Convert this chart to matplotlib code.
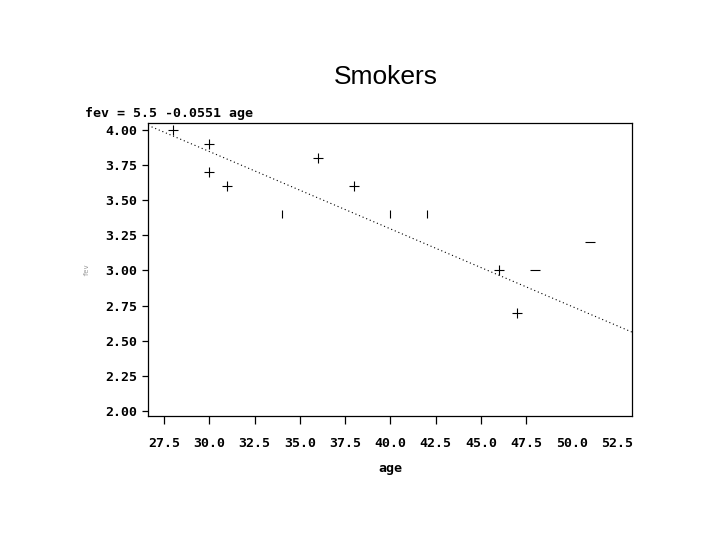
import matplotlib
matplotlib.use('Agg')
import matplotlib.pyplot as plt
import numpy as np

# smokers: age vs fev, symbol per point as printed in the reference
age_plus = [28, 30, 30, 31, 36, 38, 46, 47]
fev_plus = [4.0, 3.9, 3.7, 3.6, 3.8, 3.6, 3.0, 2.7]
age_bar = [34, 40, 42]
fev_bar = [3.4, 3.4, 3.4]
age_dash = [48, 51]
fev_dash = [3.0, 3.2]

intercept = 5.5
slope = -0.0551

xticks = [27.5, 30.0, 32.5, 35.0, 37.5, 40.0, 42.5, 45.0, 47.5, 50.0, 52.5]
yticks = [2.00, 2.25, 2.50, 2.75, 3.00, 3.25, 3.50, 3.75, 4.00]

mono = 'DejaVu Sans Mono'

fig = plt.figure(figsize=(7.2, 5.4), dpi=100)
ax = fig.add_axes([148/720, 1 - 416/540, 484/720, 293/540])

xlim = (26.617, 53.33)
ylim = (1.9644, 4.0498)

# fitted line
xl = np.array(xlim)
ax.plot(xl, intercept + slope * xl, color='black', lw=0.8, linestyle=(0, (1, 2.5)))

ax.plot(age_plus, fev_plus, linestyle='none', marker='+', ms=7, mew=0.8, color='black')
ax.plot(age_bar, fev_bar, linestyle='none', marker='|', ms=6, mew=0.8, color='black')
ax.plot(age_dash, fev_dash, linestyle='none', marker='_', ms=6.5, mew=0.8, color='black')

ax.set_xlim(*xlim)
ax.set_ylim(*ylim)
ax.set_xticks(xticks)
ax.set_xticklabels(['%.1f' % v for v in xticks], family=mono, fontsize=9.5, fontweight='bold')
ax.set_yticks(yticks)
ax.set_yticklabels(['%.2f' % v for v in yticks], family=mono, fontsize=9.5, fontweight='bold')
ax.tick_params(axis='x', direction='out', length=6, width=0.9, pad=9)
ax.tick_params(axis='y', direction='out', length=4, width=0.9, pad=4)
# no tick marks past 47.5 in the original
for t in ax.xaxis.get_major_ticks()[-2:]:
    t.tick1line.set_visible(False)
for s in ax.spines.values():
    s.set_linewidth(0.9)

ax.set_xlabel('age', family=mono, fontsize=9.5, fontweight='bold', labelpad=9)
ax.set_ylabel('fev', family=mono, fontsize=5, color='#999999', labelpad=11)

fig.text(386/720, 1 - 77/540, 'Smokers', ha='center', va='center',
         family='Liberation Sans', fontsize=19)
fig.text(85/720, 1 - 114/540, 'fev = 5.5 -0.0551 age', ha='left', va='center',
         family=mono, fontsize=9.5, fontweight='bold')

fig.savefig('out.png', dpi=100)
